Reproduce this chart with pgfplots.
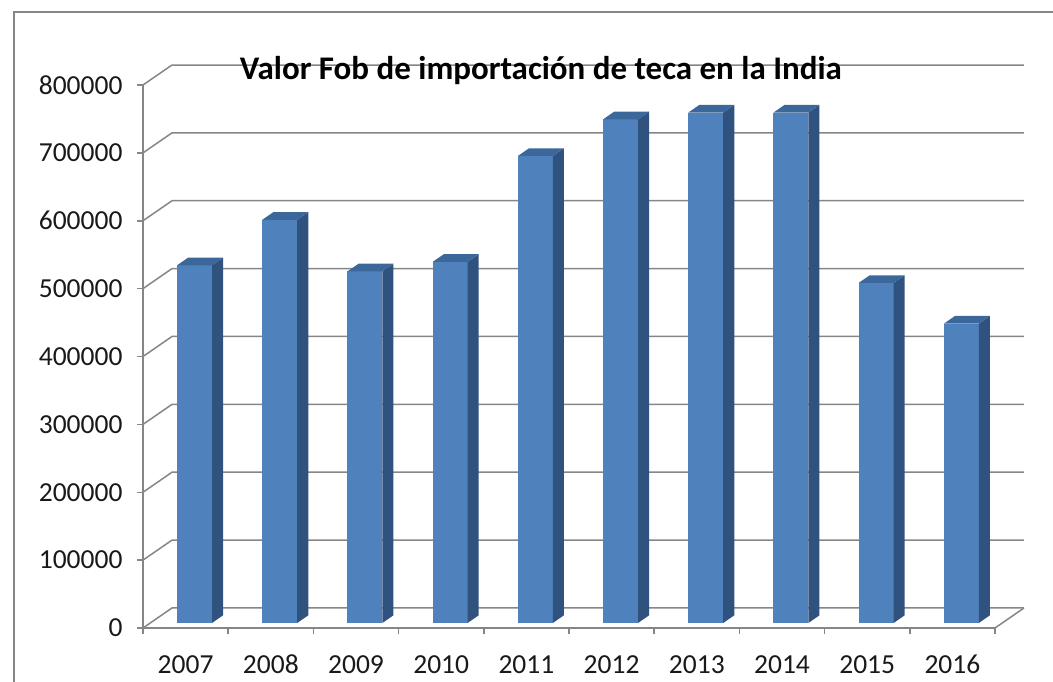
\documentclass[border=0pt]{standalone}
\usepackage{pgfplots}
\pgfplotsset{compat=1.18}
\usepackage{pgfplotstable}
\usepackage{fontspec}
\setmainfont{Carlito}
\definecolor{barfront}{HTML}{4F81BD}
\definecolor{barside}{HTML}{30527F}
\definecolor{bartop}{HTML}{3C679B}
\definecolor{gridc}{HTML}{868686}
\pgfplotstableread{
x v
0 527000
1 594000
2 518000
3 532000
4 688000
5 742000
6 752000
7 752000
8 501000
9 441000
}\datatable
\begin{document}
\begin{tikzpicture}[x=1pt,y=1pt]
\useasboundingbox (0,0) rectangle (1053,681);
\draw[gridc, line width=1.2pt] (14,-20) -- (14,669) -- (1080,669);
\begin{axis}[
  at={(143pt,53pt)}, anchor=south west,
  scale only axis, width=852pt, height=543pt,
  xmin=0, xmax=10, ymin=0, ymax=800000,
  clip=false,
  axis x line*=bottom, axis y line*=left,
  axis line style={gridc, line width=1.5pt},
  xtick={0,...,10},
  xticklabels={2007,2008,2009,2010,2011,2012,2013,2014,2015,2016},
  x tick label as interval,
  ytick={0,100000,200000,300000,400000,500000,600000,700000,800000},
  yticklabels={0,100000,200000,300000,400000,500000,600000,700000,800000},
  scaled y ticks=false,
  tick align=outside, major tick length=6pt,
  tick style={gridc, line width=1.5pt},
  ticklabel style={font=\fontsize{27.5}{30}\selectfont, text=black!90},
  yticklabel style={xshift=-11pt},
  xticklabel style={anchor=base, yshift=-39pt},
]
\pgfplotsinvokeforeach{0,100000,200000,300000,400000,500000,600000,700000,800000}{
  \edef\tmp{\noexpand\addplot[gridc, line width=1.5pt] coordinates {(0,#1) (0.34,\the\numexpr#1+29470\relax) (10.34,\the\numexpr#1+29470\relax)};}\tmp
}
\addplot[gridc, line width=1.5pt] coordinates {(10,0) (10.34,29470)};
\pgfplotsinvokeforeach{0,...,9}{
  \pgfplotstablegetelem{#1}{v}\of\datatable
  \edef\vv{\pgfplotsretval}
  \pgfmathsetmacro\xa{#1+0.40}
  \pgfmathsetmacro\xb{#1+0.81}
  \pgfmathsetmacro\xc{#1+0.94}
  \pgfmathsetmacro\xd{#1+0.53}
  \edef\yt{\the\numexpr\vv+7400\relax}
  \edef\ytt{\the\numexpr\vv+18700\relax}
  \edef\tmp{%
   \noexpand\addplot[fill=barfront, draw=none] coordinates {(\xa,7400) (\xb,7400) (\xb,\yt) (\xa,\yt)} -- cycle;
   \noexpand\addplot[fill=barside, draw=none] coordinates {(\xb,7400) (\xc,18700) (\xc,\ytt) (\xb,\yt)} -- cycle;
   \noexpand\addplot[fill=bartop, draw=none] coordinates {(\xa,\yt) (\xb,\yt) (\xc,\ytt) (\xd,\ytt)} -- cycle;
  }\tmp
}
\node[font=\bfseries\fontsize{33}{38}\selectfont, anchor=base] at (rel axis cs:0.467,1) [yshift=6pt] {Valor Fob de importación de teca en la India};
\end{axis}
\end{tikzpicture}
\end{document}
